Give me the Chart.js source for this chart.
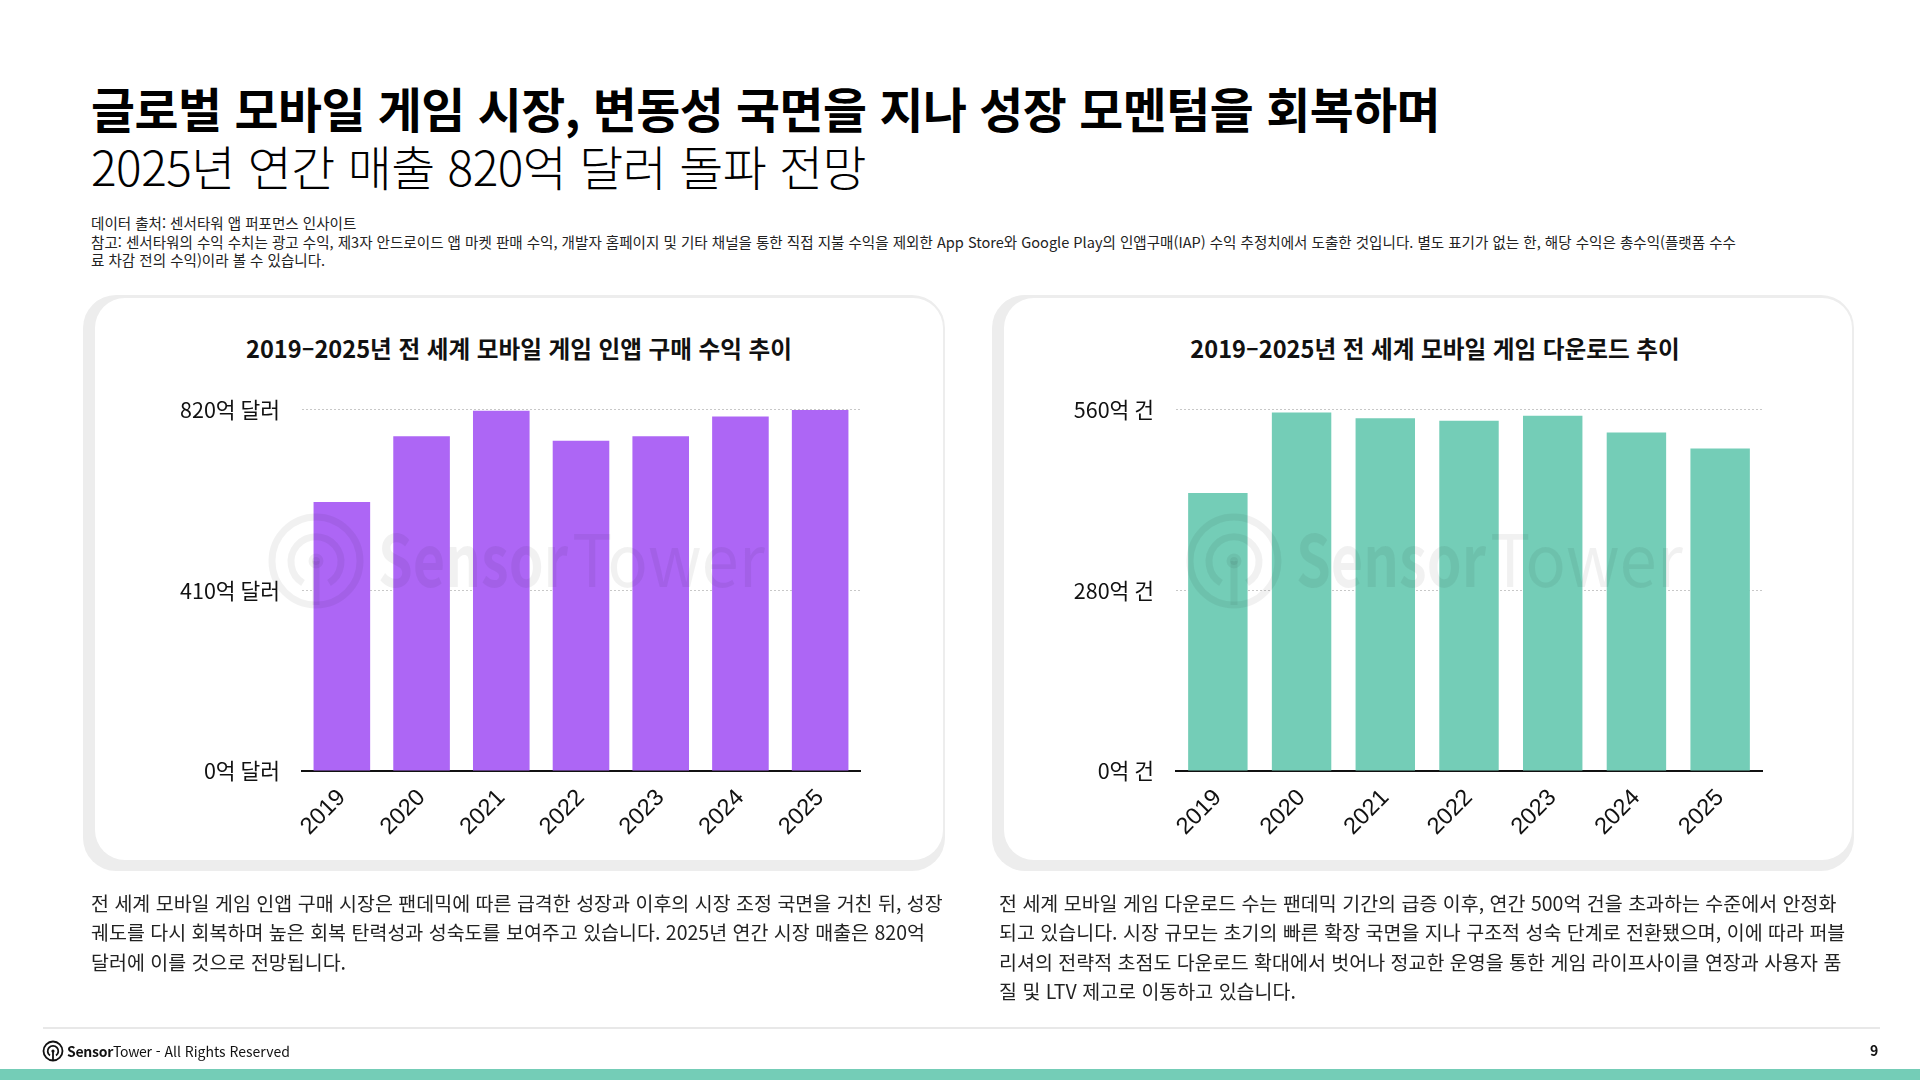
<!DOCTYPE html>
<html lang="ko">
<head>
<meta charset="utf-8">
<title>글로벌 모바일 게임 시장</title>
<script src="https://cdn.jsdelivr.net/npm/chart.js@4.4.1/dist/chart.umd.min.js"></script>
<style>
  html, body { margin: 0; padding: 0; }
  body {
    width: 1920px; height: 1080px; position: relative; overflow: hidden;
    background: #fff; color: #111;
    font-family: "Noto Sans CJK KR", "Noto Sans", sans-serif;
  }
  .abs { position: absolute; white-space: nowrap; }
  .title1 { left: 91px; top: 84px; font-size: 47.8px; line-height: 48px; font-weight: 700; letter-spacing: -0.01em; color: #000; }
  .title2 { left: 91px; top: 142px; font-size: 47.8px; line-height: 48px; font-weight: 300; letter-spacing: -0.01em; color: #000; }
  .notes { left: 91px; top: 214px; font-size: 14.55px; line-height: 18.5px; color: #222; }
  .card { position: absolute; top: 295px; width: 862px; height: 576px; background: #ededed; border-radius: 33px; }
  .card .inner { position: absolute; left: 12px; top: 3px; right: 2px; bottom: 11px; background: #fff; border-radius: 30px; }
  .ctitle { position: absolute; top: 333px; width: 848px; text-align: center; font-size: 23.6px; line-height: 30px; font-weight: 700; color: #111; white-space: nowrap; }
  canvas { position: absolute; }
  .desc { font-size: 19.5px; line-height: 29.4px; color: #222; }
  .footline { position: absolute; left: 43px; top: 1027px; width: 1837px; height: 2px; background: #e8e8e8; }
  .foot { left: 42px; top: 1040px; font-size: 14px; line-height: 20px; color: #111; display: flex; align-items: center; }
  .pageno { left: 1870px; top: 1040px; font-size: 14px; line-height: 20px; font-weight: 700; color: #111; }
  .bottombar { position: absolute; left: 0; top: 1069px; width: 1920px; height: 11px; background: #74cdb7; }
</style>
</head>
<body>

<div class="abs title1">글로벌 모바일 게임 시장, 변동성 국면을 지나 성장 모멘텀을 회복하며</div>
<div class="abs title2">2025년 연간 매출 820억 달러 돌파 전망</div>

<div class="abs notes">데이터 출처: 센서타워 앱 퍼포먼스 인사이트<br>참고: 센서타워의 수익 수치는 광고 수익, 제3자 안드로이드 앱 마켓 판매 수익, 개발자 홈페이지 및 기타 채널을 통한 직접 지불 수익을 제외한 App Store와 Google Play의 인앱구매(IAP) 수익 추정치에서 도출한 것입니다. 별도 표기가 없는 한, 해당 수익은 총수익(플랫폼 수수<br>료 차감 전의 수익)이라 볼 수 있습니다.</div>

<div class="card" style="left:83px"><div class="inner"></div></div>
<div class="card" style="left:992px"><div class="inner"></div></div>

<div class="ctitle" style="left:95px">2019–2025년 전 세계 모바일 게임 인앱 구매 수익 추이</div>
<div class="ctitle" style="left:1011px">2019–2025년 전 세계 모바일 게임 다운로드 추이</div>

<canvas id="revenue" width="730" height="485" style="left:170px; top:375px"></canvas>
<canvas id="downloads" width="770" height="485" style="left:1044px; top:375px"></canvas>

<!-- watermark -->
<svg class="abs" width="1920" height="1080" style="left:0; top:0; pointer-events:none">
  <g id="wm" fill="none" stroke="#000" stroke-opacity="0.055" stroke-width="7">
    <circle cx="316" cy="561" r="44"/>
    <path d="M 303 583 A 25 25 0 1 1 329 583"/>
    <line x1="316" y1="561" x2="316" y2="605"/>
    <circle cx="316" cy="561" r="4" fill="#000" fill-opacity="0.055"/>
    <text x="378" y="587" font-family="Noto Sans CJK KR, sans-serif" font-size="72" font-weight="700" stroke="none" fill="#000" fill-opacity="0.055" textLength="190" lengthAdjust="spacingAndGlyphs">Sensor</text>
    <text x="572" y="587" font-family="Noto Sans CJK KR, sans-serif" font-size="72" font-weight="400" stroke="none" fill="#000" fill-opacity="0.055" textLength="193" lengthAdjust="spacingAndGlyphs">Tower</text>
  </g>
  <use href="#wm" x="918" y="0"/>
</svg>

<div class="abs desc" style="left:91px; top:888px">전 세계 모바일 게임 인앱 구매 시장은 팬데믹에 따른 급격한 성장과 이후의 시장 조정 국면을 거친 뒤, 성장<br>궤도를 다시 회복하며 높은 회복 탄력성과 성숙도를 보여주고 있습니다. 2025년 연간 시장 매출은 820억<br>달러에 이를 것으로 전망됩니다.</div>
<div class="abs desc" style="left:999px; top:888px">전 세계 모바일 게임 다운로드 수는 팬데믹 기간의 급증 이후, 연간 500억 건을 초과하는 수준에서 안정화<br>되고 있습니다. 시장 규모는 초기의 빠른 확장 국면을 지나 구조적 성숙 단계로 전환됐으며, 이에 따라 퍼블<br>리셔의 전략적 초점도 다운로드 확대에서 벗어나 정교한 운영을 통한 게임 라이프사이클 연장과 사용자 품<br>질 및 LTV 제고로 이동하고 있습니다.</div>

<div class="footline"></div>
<div class="abs foot">
  <svg width="22" height="22" viewBox="0 0 22 22" style="margin-right:3px">
    <circle cx="11" cy="11" r="9.5" fill="none" stroke="#111" stroke-width="1.8"/>
    <path d="M 8 15.5 A 5.3 5.3 0 1 1 14 15.5" fill="none" stroke="#111" stroke-width="1.8"/>
    <line x1="11" y1="11" x2="11" y2="20.5" stroke="#111" stroke-width="1.8"/>
    <circle cx="11" cy="11" r="1.6" fill="#111"/>
  </svg>
  <b style="letter-spacing:-0.02em">Sensor</b><span style="letter-spacing:-0.02em">Tower</span><span>&nbsp;- All Rights Reserved</span>
</div>
<div class="abs pageno">9</div>
<div class="bottombar"></div>

<script>
// 연도별 데이터 (단위: 억)
const years = ['2019', '2020', '2021', '2022', '2023', '2024', '2025'];
const iapRevenue = [611, 760, 818, 750, 760, 805, 820];
const iapTicks = [0, 410, 820];
const gameDownloads = [431, 556, 547, 543, 551, 525, 500];
const downloadTicks = [0, 280, 560];

function makeChart(id, values, tickValues, unit, color, rightPad) {
    var ctx = document.getElementById(id).getContext('2d');
    return new Chart(ctx, {
        type: 'bar',
        data: {
            labels: years,
            datasets: [{
                data: values,
                backgroundColor: color,
                borderWidth: 0,
                barPercentage: 0.71,
                categoryPercentage: 1
            }]
        },
        options: {
            responsive: false,
            animation: false,
            layout: { padding: { top: 28, right: rightPad, bottom: 0, left: 0 } },
            plugins: {
                legend: { display: false },
                tooltip: { enabled: false }
            },
            scales: {
                x: {
                    grid: { display: false },
                    border: { display: true, color: '#111', width: 2 },
                    ticks: {
                        minRotation: 45,
                        maxRotation: 45,
                        autoSkip: false,
                        padding: 5,
                        color: '#111',
                        font: { family: '"Liberation Sans", Arial, sans-serif', size: 23.5 }
                    },
                    afterFit: function (s) { s.height = 89; }
                },
                y: {
                    min: 0,
                    max: tickValues[tickValues.length - 1],
                    grid: { color: '#c8c8c8', lineWidth: 1, drawTicks: false },
                    border: { display: false, dash: [2, 2] },
                    ticks: {
                        padding: 22,
                        color: '#111',
                        font: { family: '"Noto Sans CJK KR", sans-serif', size: 21.5 },
                        callback: function (v) { return v + unit; }
                    },
                    afterBuildTicks: function (s) {
                        s.ticks = tickValues.map(v => ({ value: v }));
                    },
                    afterFit: function (s) { s.width = 132; }
                }
            }
        }
    });
}

makeChart('revenue', iapRevenue, iapTicks, '억 달러', '#ad66f5', 40);
makeChart('downloads', gameDownloads, downloadTicks, '억 건', '#74cdb7', 52);
</script>
</body>
</html>
